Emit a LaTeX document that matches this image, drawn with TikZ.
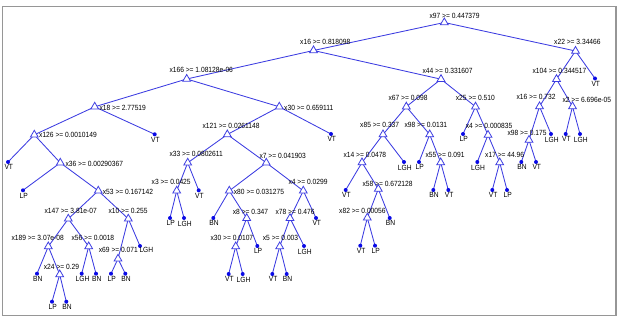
\documentclass[tikz,border=0pt]{standalone}
\usepackage{fontspec}
\setmainfont{Liberation Sans}[FakeStretch=0.89]
\usetikzlibrary{shapes.geometric}
\pgfdeclarelayer{bg}
\pgfsetlayers{bg,main}
\definecolor{edgeblue}{RGB}{60,60,225}
\definecolor{dotblue}{RGB}{10,10,230}
\definecolor{framegray}{RGB}{150,150,150}
\tikzset{
 tri/.style={regular polygon, regular polygon sides=3, minimum size=9pt, inner sep=0pt, draw=edgeblue, fill=white, line width=0.8pt},
 leafdot/.style={circle, fill=dotblue, inner sep=0pt, minimum size=4pt},
 lbl/.style={inner sep=0pt, font=\fontsize{7.5}{8}\selectfont, text=black},
 edgeline/.style={draw=edgeblue, line width=0.85pt},
}
\newcommand{\splitnd}[6]{%
  \node[tri] (#1) at (#2,{-(#3)-0.5}) {};
  \node[lbl, anchor=base west] (#1-t) at (#4,{-(#5)-2.7}) {#6};}
\newcommand{\leafnd}[4]{%
  \node[leafdot] (#1) at (#2,{-(#3)}) {};
  \node[lbl, anchor=north] (#1-t) at ({#2+0.8},{-(#3)-2.6}) {#4};}
\begin{document}
\begin{tikzpicture}[x=1pt,y=1pt]
\useasboundingbox (0,0) rectangle (620,-320);
\draw[framegray, line width=1.5pt] (2.7,-6.7) rectangle (616,-315.7);
% split nodes
\splitnd{root}{444.3}{22}{429.3}{15.5}{x97 >= 0.447379}
\splitnd{a16}{313.5}{50}{300}{41.5}{x16 >= 0.818098}
\splitnd{a22}{575.5}{50.5}{554}{41.7}{x22 >= 3.34466}
\splitnd{a166}{186.7}{78.5}{169.3}{70.3}{x166 >= 1.08128e-06}
\splitnd{a44}{441}{78.7}{422.3}{70.7}{x44 >= 0.331607}
\splitnd{a104}{556.5}{78.7}{532.3}{70.7}{x104 >= 0.344517}
\splitnd{a18}{94.7}{106.3}{99.3}{107.7}{x18 >= 2.77519}
\splitnd{a30}{279.3}{106.3}{284}{107.7}{x30 >= 0.659111}
\splitnd{a67}{406.3}{106.2}{388.3}{98.3}{x67 >= 0.098}
\splitnd{a25}{475.5}{106.2}{455.7}{98.3}{x25 >= 0.510}
\splitnd{a16b}{539.5}{106}{516.3}{96.7}{x16 >= 0.732}
\splitnd{a2}{572.5}{106}{562.3}{100}{x2 >= 6.696e-05}
\splitnd{a126}{34.3}{134.3}{39}{135.3}{x126 >= 0.0010149}
\splitnd{a121}{227.3}{134}{202.3}{126.3}{x121 >= 0.0261148}
\splitnd{a85}{383}{134}{360}{125.3}{x85 >= 0.337}
\splitnd{a98}{429.7}{134}{404.3}{125.3}{x98 >= 0.0131}
\splitnd{a4}{488}{134.5}{465.7}{126}{x4 >= 0.000835}
\splitnd{a98b}{529}{139.5}{507.3}{133}{x98 >= 0.175}
\splitnd{a36}{60.3}{162.3}{65.3}{164}{x36 >= 0.00290367}
\splitnd{a33}{187.7}{162.3}{169.3}{153.5}{x33 >= 0.0802611}
\splitnd{a7}{266.3}{162.3}{259.3}{155.5}{x7 >= 0.041903}
\splitnd{a14}{362}{162}{343.3}{155}{x14 >= 0.0478}
\splitnd{a55}{440.7}{162}{425.3}{155}{x55 >= 0.091}
\splitnd{a17}{499.7}{162}{485}{155.3}{x17 >= 44.96}
\splitnd{a53}{98.3}{190.3}{102.7}{191.7}{x53 >= 0.167142}
\splitnd{a3}{176.7}{190.3}{151.5}{181.7}{x3 >= 0.0425}
\splitnd{a80}{229.3}{190.3}{233.7}{191.7}{x80 >= 0.031275}
\splitnd{a4b}{303.3}{190.3}{288.3}{182.3}{x4 >= 0.0299}
\splitnd{a58}{378.3}{188.5}{362.3}{183.3}{x58 >= 0.672128}
\splitnd{a147}{68.3}{218.3}{44.3}{211}{x147 >= 3.81e-07}
\splitnd{a10}{128.3}{218.3}{108.3}{211}{x10 >= 0.255}
\splitnd{a8}{246.7}{217.7}{232.7}{212}{x8 >= 0.347}
\splitnd{a78}{290}{217.7}{275.3}{212}{x78 >= 0.476}
\splitnd{a82}{367.3}{217.3}{339}{210.7}{x82 >= 0.00056}
\splitnd{a189}{48.3}{246}{11.3}{237.3}{x189 >= 3.07e-08}
\splitnd{a56}{88.7}{246}{71.3}{237.7}{x56 >= 0.0018}
\splitnd{a30b}{235.7}{246}{210.3}{237.7}{x30 >= 0.0107}
\splitnd{a5}{279.7}{246}{262.7}{237.7}{x5 >= 0.003}
\splitnd{a69}{118}{258.3}{98.7}{249.3}{x69 >= 0.071}
\splitnd{a24}{59.7}{274}{43.7}{266.7}{x24 >= 0.29}
% leaves
\leafnd{l1}{595}{78.5}{VT}
\leafnd{l2}{154.7}{134.3}{VT}
\leafnd{l3}{331}{134}{VT}
\leafnd{l4}{463}{134}{LP}
\leafnd{l5}{551}{134}{LGH}
\leafnd{l6}{565.7}{134}{VT}
\leafnd{l7}{580}{134}{LGH}
\leafnd{l8}{8}{162}{VT}
\leafnd{l9}{404}{162}{LGH}
\leafnd{l10}{419}{162}{LP}
\leafnd{l11}{477.3}{162}{LGH}
\leafnd{l12}{521.3}{162}{BN}
\leafnd{l13}{536}{162}{VT}
\leafnd{l14}{23}{190.3}{LP}
\leafnd{l15}{198.7}{190.3}{VT}
\leafnd{l16}{345.7}{190}{VT}
\leafnd{l17}{433.3}{190}{BN}
\leafnd{l18}{448.3}{190}{VT}
\leafnd{l19}{492.3}{190}{VT}
\leafnd{l20}{507}{190}{LP}
\leafnd{l21}{170}{218}{LP}
\leafnd{l22}{184}{218}{LGH}
\leafnd{l23}{213.3}{218}{BN}
\leafnd{l24}{316}{218}{VT}
\leafnd{l25}{389.7}{218}{BN}
\node[leafdot] (l26) at (140,-246) {};
\node[lbl, anchor=base west] (l26-t) at (139.3,{-250-2.7}) {LGH};
\leafnd{l27}{257.3}{246}{LP}
\leafnd{l28}{304}{246}{LGH}
\leafnd{l29}{360.3}{245.7}{VT}
\leafnd{l30}{375}{245.7}{LP}
\leafnd{l31}{37}{273.7}{BN}
\leafnd{l32}{81.7}{273.7}{LGH}
\leafnd{l33}{96}{273.7}{BN}
\leafnd{l34}{111}{273.7}{LP}
\leafnd{l35}{125.3}{273.7}{BN}
\leafnd{l36}{228.7}{274}{VT}
\leafnd{l37}{242.7}{274}{LGH}
\leafnd{l38}{272.3}{274}{VT}
\leafnd{l39}{286.7}{274}{BN}
\leafnd{l40}{52}{301.7}{LP}
\leafnd{l41}{66.3}{301.7}{BN}
% edges
\begin{pgfonlayer}{bg}
\foreach \p/\c in {root/a16, root/a22, a16/a166, a16/a44, a22/a104, a22/l1,
  a166/a18, a166/a30, a44/a67, a44/a25, a104/a16b, a104/a2,
  a18/a126, a18/l2, a30/a121, a30/l3, a67/a85, a67/a98, a25/l4, a25/a4,
  a16b/a98b, a16b/l5, a2/l6, a2/l7, a126/l8, a126/a36, a121/a33, a121/a7,
  a85/a14, a85/l9, a98/l10, a98/a55, a4/l11, a4/a17, a98b/l12, a98b/l13,
  a36/l14, a36/a53, a33/a3, a33/l15, a7/a80, a7/a4b, a14/l16, a14/a58,
  a55/l17, a55/l18, a17/l19, a17/l20, a53/a147, a53/a10, a3/l21, a3/l22,
  a80/l23, a80/a8, a4b/a78, a4b/l24, a58/a82, a58/l25, a147/a189, a147/a56,
  a10/a69, a10/l26, a8/a30b, a8/l27, a78/a5, a78/l28, a82/l29, a82/l30,
  a189/l31, a189/a24, a56/l32, a56/l33, a69/l34, a69/l35, a30b/l36, a30b/l37,
  a5/l38, a5/l39, a24/l40, a24/l41}
  \draw[edgeline] (\p.center) -- (\c.center);
\end{pgfonlayer}
\end{tikzpicture}
\end{document}
